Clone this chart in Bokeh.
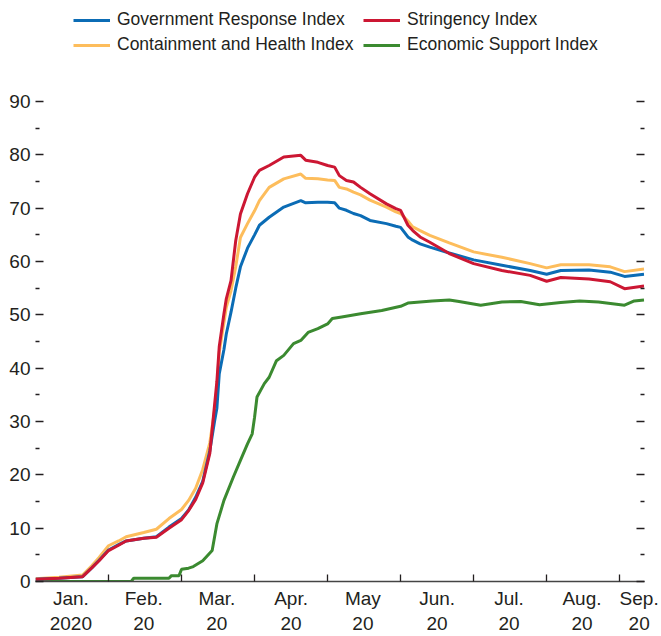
import calendar
import datetime

from bokeh.plotting import figure
from bokeh.models import Range1d, FixedTicker, LinearAxis, Legend, LegendItem
from bokeh.embed import file_html
from bokeh.resources import INLINE

# ---------------- data ----------------
dates = ["2020-01-01", "2020-01-11", "2020-01-21", "2020-01-25", "2020-01-28",
         "2020-02-01", "2020-02-05", "2020-02-08", "2020-02-15", "2020-02-20",
         "2020-02-25", "2020-03-01", "2020-03-04", "2020-03-07", "2020-03-10",
         "2020-03-13", "2020-03-15", "2020-03-16", "2020-03-17", "2020-03-19",
         "2020-03-20", "2020-03-22", "2020-03-24", "2020-03-26", "2020-03-29",
         "2020-04-01", "2020-04-03", "2020-04-07", "2020-04-13", "2020-04-20",
         "2020-04-22", "2020-04-27", "2020-05-01", "2020-05-04", "2020-05-06",
         "2020-05-09", "2020-05-12", "2020-05-15", "2020-05-19", "2020-05-26",
         "2020-05-30", "2020-06-01", "2020-06-04", "2020-06-06", "2020-06-09",
         "2020-06-13", "2020-06-21", "2020-07-01", "2020-07-13", "2020-07-25",
         "2020-08-01", "2020-08-07", "2020-08-19", "2020-08-28", "2020-09-03",
         "2020-09-11"]

government_response = [0.4, 0.6, 0.9, 2.6, 4.0, 5.9, 6.9, 7.6, 8.1, 8.4,
                       10.2, 11.8, 13.4, 15.8, 18.8, 24.5, 30.0, 32.5, 38.9, 43.5,
                       46.4, 50.5, 55.0, 59.0, 62.5, 65.0, 66.8, 68.3, 70.2, 71.4,
                       71.0, 71.1, 71.1, 71.0, 70.0, 69.6, 69.0, 68.6, 67.7, 67.1,
                       66.6, 66.4, 64.6, 64.0, 63.3, 62.7, 61.6, 60.3, 59.3, 58.3,
                       57.6, 58.3, 58.4, 58.0, 57.2, 57.6]

containment_health = [0.5, 0.8, 1.2, 3.0, 4.5, 6.7, 7.6, 8.4, 9.2, 9.8,
                      11.8, 13.5, 15.2, 17.5, 21.0, 26.0, 32.0, 36.0, 43.0, 48.5,
                      51.4, 54.5, 59.0, 64.5, 67.1, 69.5, 71.4, 73.9, 75.5, 76.4,
                      75.6, 75.5, 75.3, 75.2, 73.9, 73.6, 73.0, 72.5, 71.5, 70.2,
                      69.3, 69.0, 67.6, 66.5, 65.8, 64.9, 63.5, 61.8, 60.8, 59.6,
                      58.8, 59.4, 59.4, 59.0, 58.1, 58.6]

stringency = [0.4, 0.6, 0.9, 2.6, 3.9, 5.8, 6.8, 7.6, 8.1, 8.3,
              10.0, 11.6, 13.3, 15.4, 18.5, 24.0, 33.0, 37.5, 44.0, 50.2,
              53.0, 56.4, 63.9, 68.9, 72.7, 75.8, 77.1, 78.0, 79.6, 79.9,
              79.0, 78.6, 78.0, 77.7, 76.1, 75.2, 74.9, 73.9, 72.7, 70.8,
              69.9, 69.6, 66.8, 65.8, 64.6, 63.6, 61.5, 59.6, 58.3, 57.4,
              56.3, 57.0, 56.7, 56.2, 54.9, 55.4]

econ_dates = ["2020-01-01", "2020-02-10", "2020-02-11", "2020-02-25", "2020-02-26",
              "2020-02-29", "2020-03-01", "2020-03-04", "2020-03-06", "2020-03-10",
              "2020-03-14", "2020-03-16", "2020-03-19", "2020-03-23", "2020-03-26",
              "2020-03-29", "2020-03-31", "2020-04-01", "2020-04-02", "2020-04-05",
              "2020-04-07", "2020-04-10", "2020-04-13", "2020-04-17", "2020-04-20",
              "2020-04-23", "2020-04-27", "2020-05-01", "2020-05-03", "2020-05-07",
              "2020-05-15", "2020-05-24", "2020-06-01", "2020-06-04", "2020-06-14",
              "2020-06-21", "2020-06-25", "2020-07-04", "2020-07-13", "2020-07-21",
              "2020-07-29", "2020-08-07", "2020-08-15", "2020-08-23", "2020-09-03",
              "2020-09-07", "2020-09-11"]

economic_support = [0.0, 0.0, 0.6, 0.6, 1.1, 1.1, 2.3, 2.5, 2.8, 3.9,
                    5.8, 10.8, 15.2, 19.6, 22.7, 25.8, 27.7, 30.8, 34.6, 37.1,
                    38.3, 41.4, 42.4, 44.6, 45.2, 46.7, 47.4, 48.3, 49.3, 49.6,
                    50.2, 50.8, 51.6, 52.2, 52.6, 52.8, 52.5, 51.8, 52.4, 52.5,
                    51.9, 52.3, 52.6, 52.4, 51.8, 52.6, 52.8]

month_labels = ["Jan.\n2020", "Feb.\n20", "Mar.\n20", "Apr.\n20", "May\n20",
                "Jun.\n20", "Jul.\n20", "Aug.\n20", "Sep.\n20"]
label_dates = ["2020-01-16", "2020-02-15", "2020-03-16", "2020-04-16", "2020-05-16",
               "2020-06-16", "2020-07-16", "2020-08-16", "2020-09-09"]
boundary_dates = ["2020-02-01", "2020-03-01", "2020-04-01", "2020-05-01",
                  "2020-06-01", "2020-07-01", "2020-08-01", "2020-09-01"]
y_major = [0, 10, 20, 30, 40, 50, 60, 70, 80, 90]
y_minor = [5, 15, 25, 35, 45, 55, 65, 75, 85]

# ---------------- styling ----------------
FONT = "'Liberation Sans', Arial, sans-serif"
TICK_FS = "19px"
LEG_FS = "17.5px"
BLUE = "#0b6cb5"
RED = "#cc1733"
YELLOW = "#fdbd5c"
GREEN = "#3b8a30"
TXT = "#231f20"

FRAME_H = 581          # frame spans the full height above the x axis
PLOT_TOP_PX = 101      # where the 90 tick sits
Y_TOP = 90 * FRAME_H / (FRAME_H - PLOT_TOP_PX)   # extra room above 90 for the legend


def mpos(s):
    """Month-uniform position (each month one unit wide, as in the reference)."""
    d = datetime.date.fromisoformat(s)
    return (d.month - 1) + (d.day - 1) / calendar.monthrange(d.year, d.month)[1]


x_main = [mpos(d) for d in dates]
x_econ = [mpos(d) for d in econ_dates]
x_labels = [mpos(d) for d in label_dates]
x_bounds = [mpos(d) for d in boundary_dates]

p = figure(width=661, height=636,
           x_range=Range1d(0, 8.34), y_range=Range1d(0, Y_TOP),
           output_backend="svg", toolbar_location=None,
           x_axis_type=None, y_axis_type=None,
           min_border_left=35, min_border_right=17,
           min_border_top=0, min_border_bottom=55)
p.outline_line_color = None
p.xgrid.visible = False
p.ygrid.visible = False
p.background_fill_color = "white"
p.border_fill_color = "white"

r_econ = p.line(x_econ, economic_support, color=GREEN, line_width=3)
r_cont = p.line(x_main, containment_health, color=YELLOW, line_width=3)
r_gov = p.line(x_main, government_response, color=BLUE, line_width=3)
r_str = p.line(x_main, stringency, color=RED, line_width=3)

# bottom axis: labels mid-month, short inward ticks at month boundaries
xaxis = LinearAxis(ticker=FixedTicker(ticks=x_labels, minor_ticks=x_bounds),
                   major_label_overrides={v: t for v, t in zip(x_labels, month_labels)},
                   major_tick_in=0, major_tick_out=0,
                   minor_tick_in=7, minor_tick_out=0,
                   minor_tick_line_color=TXT, minor_tick_line_width=1.3,
                   axis_line_color="#444444", axis_line_width=1.5,
                   major_label_standoff=6,
                   major_label_text_font=FONT, major_label_text_font_size=TICK_FS,
                   major_label_text_line_height=1.2,
                   major_label_text_color=TXT)
p.add_layout(xaxis, "below")

for side in ("left", "right"):
    ax = LinearAxis(ticker=FixedTicker(ticks=y_major, minor_ticks=y_minor),
                    axis_line_color=None,
                    major_tick_in=8, major_tick_out=0,
                    minor_tick_in=4, minor_tick_out=0,
                    major_tick_line_color=TXT, major_tick_line_width=1.3,
                    minor_tick_line_color=TXT, minor_tick_line_width=1.3,
                    major_label_standoff=5,
                    major_label_text_font=FONT, major_label_text_font_size=TICK_FS,
                    major_label_text_color=TXT)
    if side == "right":
        ax.major_label_overrides = {v: "" for v in y_major}
        ax.major_label_standoff = 0
    p.add_layout(ax, side)

legend = Legend(items=[
    LegendItem(label="Government Response Index", renderers=[r_gov]),
    LegendItem(label="Stringency Index", renderers=[r_str]),
    LegendItem(label="Containment and Health Index", renderers=[r_cont]),
    LegendItem(label="Economic Support Index", renderers=[r_econ]),
], location=(38, 526), orientation="horizontal", ncols=2,
    glyph_width=37, glyph_height=20, label_standoff=7, label_width=242,
    spacing=4, padding=0, margin=0,
    border_line_color=None, background_fill_alpha=0,
    label_text_font=FONT, label_text_font_size=LEG_FS, label_text_color=TXT)
p.add_layout(legend, "center")

open("out.html", "w").write(file_html(p, INLINE))
